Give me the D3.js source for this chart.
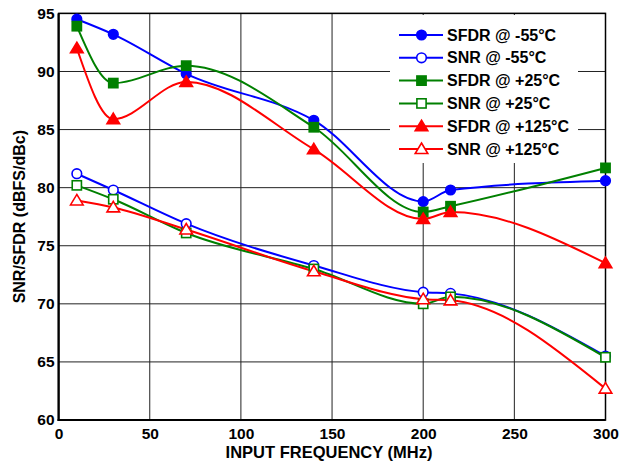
<!DOCTYPE html>
<html><head><meta charset="utf-8">
<script src="https://cdn.jsdelivr.net/npm/d3@7/dist/d3.min.js"></script>
<style>body{margin:0;background:#fff}svg{display:block;font-family:"Liberation Sans",Arial,sans-serif;font-weight:bold}</style>
</head><body><svg id="c" width="630" height="466"></svg>
<script>
const freqs = [10, 30, 70, 140, 200, 215, 300];
const sfdrM55 = [94.5, 93.2, 89.8, 85.8, 78.8, 79.8, 80.6];
const snrM55  = [81.2, 79.8, 76.9, 73.3, 71.0, 70.9, 65.5];
const sfdrP25 = [93.9, 89.0, 90.5, 85.2, 77.9, 78.4, 81.7];
const snrP25  = [80.2, 79.0, 76.1, 73.0, 70.0, 70.6, 65.4];
const sfdrP125 = [92.0, 85.9, 89.1, 83.3, 77.3, 77.9, 73.5];
const snrP125  = [78.9, 78.3, 76.4, 72.8, 70.4, 70.3, 62.7];
const xTicks = [0, 50, 100, 150, 200, 250, 300];
const yTicks = [60, 65, 70, 75, 80, 85, 90, 95];

const series = [
  {name: "SFDR @ -55°C", vals: sfdrM55, color: "#0000ff", shape: "circle", fill: true},
  {name: "SNR @ -55°C", vals: snrM55, color: "#0000ff", shape: "circle", fill: false},
  {name: "SFDR @ +25°C", vals: sfdrP25, color: "#008000", shape: "square", fill: true},
  {name: "SNR @ +25°C", vals: snrP25, color: "#008000", shape: "square", fill: false},
  {name: "SFDR @ +125°C", vals: sfdrP125, color: "#ff0000", shape: "triangle", fill: true},
  {name: "SNR @ +125°C", vals: snrP125, color: "#ff0000", shape: "triangle", fill: false}
];

const svg = d3.select("#c");
const L = 58.6, R = 605.5, T = 13.4, B = 420;
const x = d3.scaleLinear().domain([0, 300]).range([L, R]);
const y = d3.scaleLinear().domain([60, 95]).range([B, T]);

// grid
const g = svg.append("g");
g.selectAll(".gx").data(xTicks).enter().append("line")
  .attr("x1", d => x(d)).attr("x2", d => x(d)).attr("y1", T).attr("y2", B)
  .attr("stroke", "#222").attr("stroke-width", 1);
g.selectAll(".gy").data(yTicks).enter().append("line")
  .attr("x1", L).attr("x2", R).attr("y1", d => y(d)).attr("y2", d => y(d))
  .attr("stroke", "#222").attr("stroke-width", 1);

// frame
svg.append("rect").attr("x", L).attr("y", T).attr("width", R - L).attr("height", B - T)
  .attr("fill", "none").attr("stroke", "#000").attr("stroke-width", 1.5);
svg.append("line").attr("x1", L).attr("x2", L).attr("y1", T).attr("y2", B + 1).attr("stroke", "#000").attr("stroke-width", 2.2);
svg.append("line").attr("x1", L - 1).attr("x2", R).attr("y1", B).attr("y2", B).attr("stroke", "#000").attr("stroke-width", 2.2);

// axes labels
const xa = svg.append("g").attr("transform", `translate(0,${B})`)
  .call(d3.axisBottom(x).tickValues(xTicks).tickSize(0).tickPadding(8));
xa.select(".domain").remove();
xa.selectAll("text").attr("font-size", 15.5).attr("font-weight", "bold").attr("fill", "#000").attr("font-family", "Liberation Sans, Arial, sans-serif");
const ya = svg.append("g").attr("transform", `translate(${L},0)`)
  .call(d3.axisLeft(y).tickValues(yTicks).tickSize(0).tickPadding(4));
ya.select(".domain").remove();
ya.selectAll("text").attr("font-size", 15.5).attr("font-weight", "bold").attr("fill", "#000").attr("font-family", "Liberation Sans, Arial, sans-serif");

svg.append("text").attr("x", 329).attr("y", 458).attr("text-anchor", "middle")
  .attr("font-size", 16.5).text("INPUT FREQUENCY (MHz)");
svg.append("text").attr("transform", `translate(25,${(T + B) / 2}) rotate(-90)`).attr("text-anchor", "middle")
  .attr("font-size", 16).text("SNR/SFDR (dBFS/dBc)");

// lines
const line = d3.line().x((d, i) => x(freqs[i])).y(d => y(d)).curve(d3.curveMonotoneX);
const plot = svg.append("g");
series.forEach(s => {
  plot.append("path").attr("d", line(s.vals)).attr("fill", "none")
    .attr("stroke", s.color).attr("stroke-width", 2);
});

function marker(sel, s, cx, cy) {
  const fill = s.fill ? s.color : "#fff";
  if (s.shape === "circle") {
    sel.append("circle").attr("cx", cx).attr("cy", cy).attr("r", 4.8)
      .attr("fill", fill).attr("stroke", s.color).attr("stroke-width", 1.6);
  } else if (s.shape === "square") {
    sel.append("rect").attr("x", cx - 4.6).attr("y", cy - 4.6).attr("width", 9.2).attr("height", 9.2)
      .attr("fill", fill).attr("stroke", s.color).attr("stroke-width", 1.6);
  } else {
    const h = 6;
    sel.append("path").attr("d", `M${cx},${cy - h}L${cx + h * 1.05},${cy + h * 0.75}L${cx - h * 1.05},${cy + h * 0.75}Z`)
      .attr("fill", fill).attr("stroke", s.color).attr("stroke-width", 1.6);
  }
}
series.forEach(s => {
  s.vals.forEach((v, i) => marker(plot, s, x(freqs[i]), y(v)));
});

// legend
const lg = svg.append("g");
lg.append("rect").attr("x", 390).attr("y", 15).attr("width", 188).attr("height", 148).attr("fill", "#fff");
series.forEach((s, i) => {
  const cy = 35 + i * 22.8;
  lg.append("line").attr("x1", 399).attr("x2", 443).attr("y1", cy).attr("y2", cy)
    .attr("stroke", s.color).attr("stroke-width", 2);
  marker(lg, s, 421.5, cy);
  lg.append("text").attr("x", 447).attr("y", cy + 5.5).attr("font-size", 16).attr("fill", "#000").text(s.name);
});
</script></body></html>
